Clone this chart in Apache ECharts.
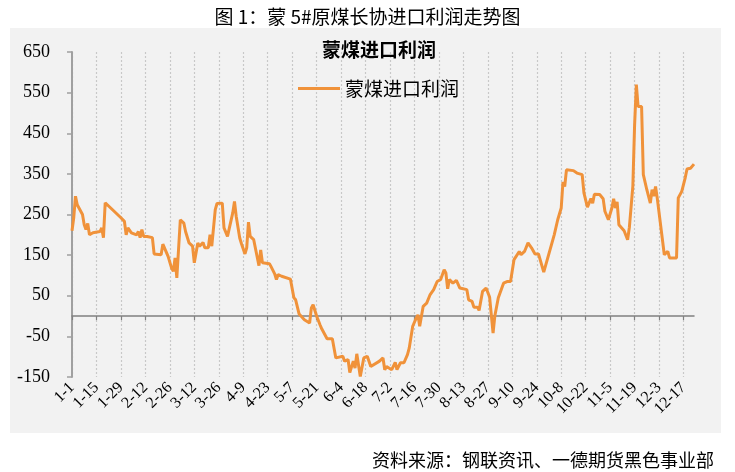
<!DOCTYPE html>
<html>
<head>
<meta charset="utf-8">
<style>
  html, body { margin: 0; padding: 0; background: #ffffff; }
  #chart-container { width: 735px; height: 472px; }
</style>
<script src="https://cdn.jsdelivr.net/npm/echarts@6/dist/echarts.min.js"></script>
</head>
<body>
<div id="chart-container"></div>
<script>
// one category per calendar day, 1-1 .. 12-23
var monthDays = [31, 28, 31, 30, 31, 30, 31, 31, 30, 31, 30, 23];
var dayLabels = [];
monthDays.forEach(function (n, m) {
  for (var d = 1; d <= n; d++) dayLabels.push((m + 1) + '-' + d);
});
var tickStep = 14; // a label every two weeks

// [date, 元/吨]
var profitPoints = [
  ['1-1', 210], ['1-2', 242], ['1-3', 295], ['1-4', 274], ['1-5', 270], ['1-7', 250],
  ['1-8', 225], ['1-9', 213], ['1-10', 228], ['1-11', 200], ['1-13', 205], ['1-17', 208],
  ['1-18', 217], ['1-19', 193], ['1-20', 279], ['1-21', 279], ['1-29', 242], ['1-31', 233],
  ['2-1', 200], ['2-2', 217], ['2-4', 205], ['2-7', 200], ['2-8', 208], ['2-9', 193],
  ['2-10', 213], ['2-11', 196], ['2-13', 196], ['2-16', 193], ['2-17', 153], ['2-21', 151],
  ['2-22', 177], ['2-23', 177], ['2-25', 147], ['2-27', 118], ['2-28', 110], ['3-1', 143],
  ['3-2', 94], ['3-4', 237], ['3-6', 229], ['3-7', 208], ['3-9', 180], ['3-11', 172],
  ['3-12', 131], ['3-14', 180], ['3-15', 172], ['3-17', 181], ['3-18', 168], ['3-20', 168],
  ['3-21', 200], ['3-22', 172], ['3-24', 262], ['3-25', 277], ['3-28', 278], ['3-29', 217],
  ['3-30', 214], ['3-31', 196], ['4-1', 200], ['4-3', 254], ['4-4', 282], ['4-5', 245],
  ['4-7', 192], ['4-8', 178], ['4-10', 153], ['4-11', 168], ['4-12', 231], ['4-13', 196],
  ['4-15', 188], ['4-18', 124], ['4-19', 163], ['4-20', 131], ['4-24', 129], ['4-25', 121],
  ['4-27', 104], ['4-28', 90], ['4-29', 102], ['5-1', 98], ['5-6', 91], ['5-8', 45],
  ['5-9', 40], ['5-11', 5], ['5-14', -9], ['5-17', -17], ['5-18', 20], ['5-19', 28],
  ['5-21', 0], ['5-23', -22], ['5-24', -32], ['5-27', -56], ['5-30', -56], ['6-1', -103],
  ['6-5', -99], ['6-6', -111], ['6-8', -107], ['6-9', -139], ['6-11', -111], ['6-12', -128],
  ['6-13', -93], ['6-15', -149], ['6-17', -103], ['6-19', -99], ['6-21', -124], ['6-26', -111],
  ['6-28', -103], ['6-29', -132], ['6-30', -124], ['7-3', -132], ['7-5', -114], ['7-6', -132],
  ['7-8', -115], ['7-10', -115], ['7-12', -95], ['7-13', -79], ['7-15', -25], ['7-17', -5],
  ['7-18', 3], ['7-19', -25], ['7-21', 24], ['7-23', 32], ['7-25', 53], ['7-27', 65],
  ['7-29', 85], ['7-31', 90], ['8-1', 90], ['8-2', 114], ['8-3', 106], ['8-4', 67],
  ['8-5', 90], ['8-7', 81], ['8-9', 88], ['8-11', 69], ['8-15', 65], ['8-16', 40],
  ['8-18', 36], ['8-19', 22], ['8-21', 22], ['8-22', 14], ['8-24', 61], ['8-26', 69],
  ['8-28', 47], ['8-30', -42], ['8-31', 0], ['9-2', 45], ['9-5', 81], ['9-7', 85],
  ['9-9', 85], ['9-11', 139], ['9-12', 135], ['9-14', 159], ['9-15', 151], ['9-17', 159],
  ['9-19', 180], ['9-21', 168], ['9-23', 153], ['9-25', 153], ['9-28', 108], ['9-29', 110],
  ['10-4', 200], ['10-6', 237], ['10-8', 266], ['10-9', 330], ['10-10', 319], ['10-11', 360],
  ['10-15', 358], ['10-17', 352], ['10-18', 348], ['10-20', 348], ['10-21', 303], ['10-23', 268],
  ['10-25', 289], ['10-26', 278], ['10-27', 300], ['10-30', 299], ['11-1', 289], ['11-2', 258],
  ['11-4', 237], ['11-6', 266], ['11-7', 289], ['11-8', 266], ['11-9', 281], ['11-10', 225],
  ['11-13', 210], ['11-15', 188], ['11-16', 218], ['11-17', 221], ['11-18', 320], ['11-19', 470],
  ['11-20', 570], ['11-21', 516], ['11-22', 520], ['11-23', 516], ['11-24', 348], ['11-26', 311],
  ['11-28', 278], ['11-29', 311], ['11-30', 295], ['12-1', 319], ['12-2', 289], ['12-6', 151],
  ['12-8', 159], ['12-9', 143], ['12-13', 143], ['12-14', 291], ['12-16', 307], ['12-18', 341],
  ['12-19', 362], ['12-21', 364], ['12-23', 374]
];

var dom = document.getElementById("chart-container");
var myChart = echarts.init(dom, null, { renderer: "canvas" });

var serif = 'Liberation Serif';
var cjk = 'Noto Sans CJK SC';
var orange = '#f0923a';

var onTick = function (idx) { return idx % tickStep === 0; };

var option = {
  backgroundColor: '#ffffff',
  animation: false,
  graphic: [
    {
      type: 'rect',
      z: -10,
      shape: { x: 10, y: 28, width: 711, height: 405 },
      style: { fill: '#f2f2f2' }
    }
  ],
  title: [
    {
      text: '图 1：蒙 5#原煤长协进口利润走势图',
      left: 'center',
      top: 2,
      textStyle: { fontFamily: cjk, fontSize: 19, fontWeight: 'normal', color: '#000' }
    },
    {
      text: '蒙煤进口利润',
      left: 317,
      top: 35,
      textStyle: { fontFamily: cjk, fontSize: 19, fontWeight: 'bold', color: '#000' }
    },
    {
      text: '资料来源：钢联资讯、一德期货黑色事业部',
      right: 16,
      top: 446,
      textStyle: { fontFamily: cjk, fontSize: 18, fontWeight: 'normal', color: '#000' }
    }
  ],
  legend: {
    top: 74,
    left: 293,
    itemWidth: 42,
    itemHeight: 3,
    textStyle: { fontFamily: cjk, fontSize: 19, color: '#000' },
    data: [{ name: '蒙煤进口利润', icon: 'rect' }]
  },
  grid: {
    left: 72,
    right: 41,
    top: 52,
    bottom: 95,
    outerBoundsMode: 'none'
  },
  xAxis: [
    {
      type: 'category',
      data: dayLabels,
      boundaryGap: false,
      axisLine: { show: false, onZero: false },
      axisTick: { show: false },
      axisLabel: {
        interval: tickStep - 1,
        rotate: 45,
        margin: 8,
        fontFamily: serif,
        fontSize: 16,
        color: '#000'
      },
      splitLine: {
        show: true,
        interval: onTick,
        lineStyle: { color: '#c8c8c8', type: [2, 2], width: 1.2 }
      }
    },
    {
      // zero line with small ticks
      type: 'category',
      data: dayLabels,
      boundaryGap: false,
      position: 'bottom',
      axisLine: { show: true, onZero: true, lineStyle: { color: '#808080', width: 1.5 } },
      axisTick: { show: true, interval: tickStep - 1, length: 4, lineStyle: { color: '#808080', width: 1.2 } },
      axisLabel: { show: false },
      splitLine: { show: false }
    }
  ],
  yAxis: {
    type: 'value',
    min: -150,
    max: 650,
    interval: 100,
    axisLine: { show: true, lineStyle: { color: '#a0a0a0', width: 2 } },
    axisTick: { show: true, length: 5, lineStyle: { color: '#a0a0a0', width: 1.5 } },
    axisLabel: { margin: 22, fontFamily: serif, fontSize: 18, color: '#000' },
    splitLine: { show: false }
  },
  series: [
    {
      name: '蒙煤进口利润',
      type: 'line',
      xAxisIndex: 0,
      symbol: 'none',
      lineStyle: { color: orange, width: 3 },
      itemStyle: { color: orange },
      data: profitPoints.map(function (p) {
        return [dayLabels.indexOf(p[0]), p[1]];
      })
    }
  ]
};

if (option && typeof option === "object") {
  myChart.setOption(option);
}

window.addEventListener("resize", myChart.resize);
</script>
</body>
</html>
